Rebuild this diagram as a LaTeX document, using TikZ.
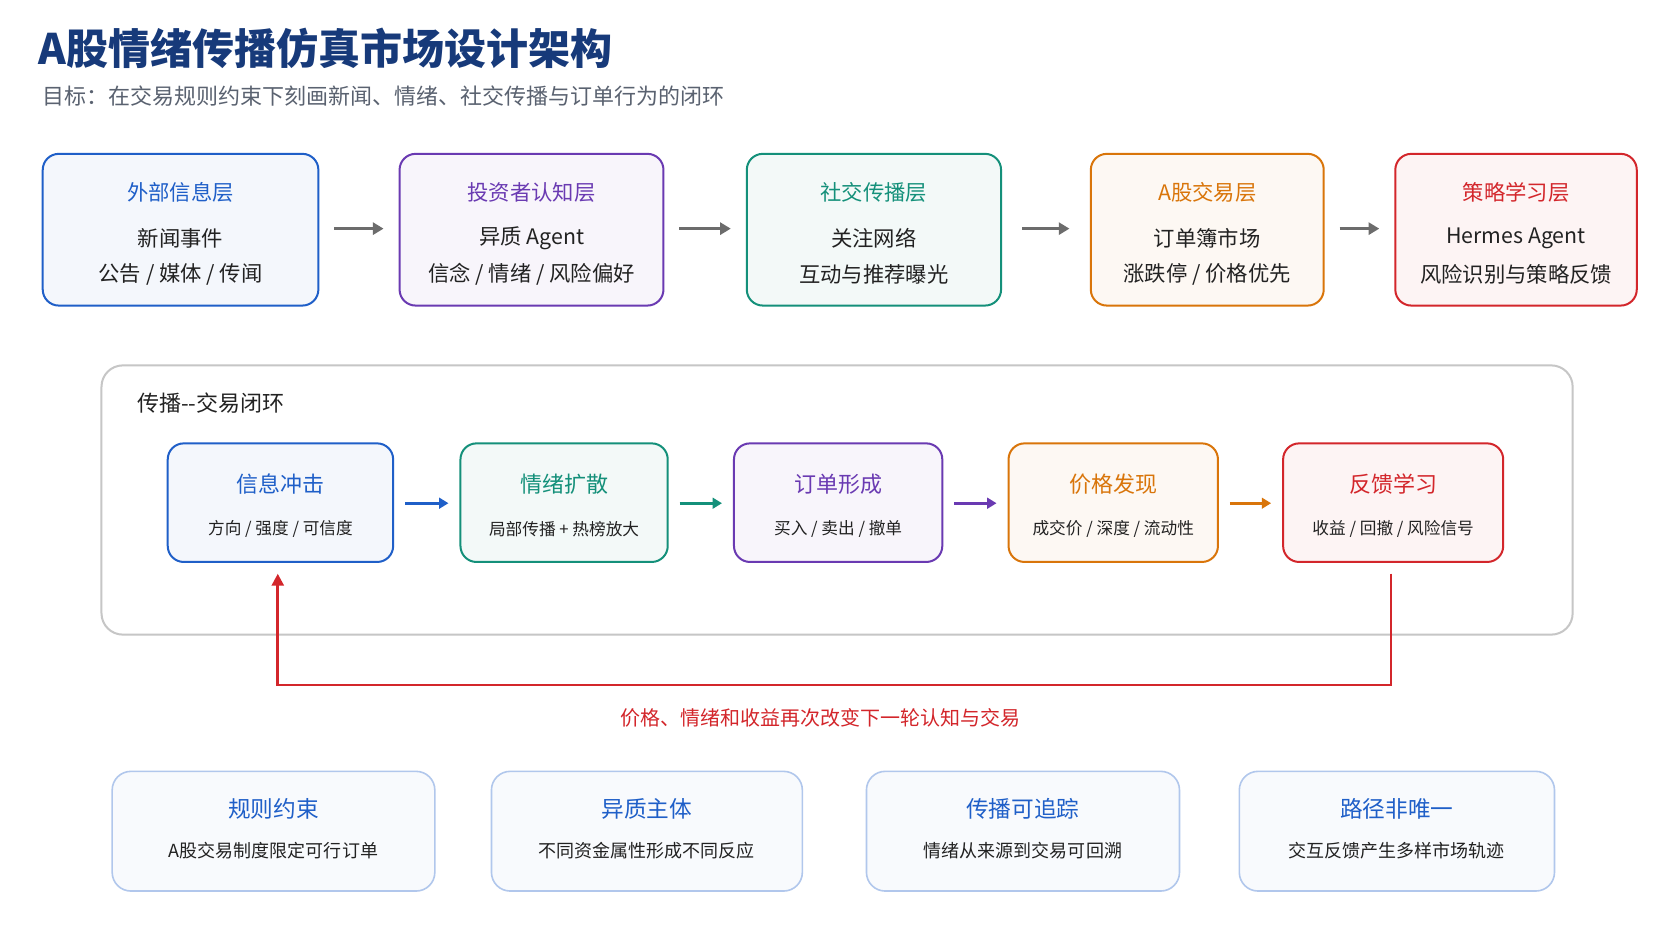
\documentclass[tikz,border=0pt]{standalone}
\usepackage{fontspec}
\setmainfont{Noto Sans CJK SC}
\usetikzlibrary{arrows.meta}
\definecolor{cblue}{HTML}{1F5FC8}
\definecolor{cpurp}{HTML}{6A3AB2}
\definecolor{cteal}{HTML}{14907A}
\definecolor{corg}{HTML}{D9750A}
\definecolor{cred}{HTML}{D3262B}
\definecolor{navy}{HTML}{173A7A}
\definecolor{gtxt}{HTML}{5A6270}
\definecolor{dtxt}{HTML}{222222}
\begin{document}
\begin{tikzpicture}[x=0.801pt,y=-0.801pt,
  lay/.style={draw=#1,line width=1.5pt,rounded corners=12pt,fill=#1!5},
  lt/.style={text=#1,font=\fontsize{16}{19}\selectfont},
  bt/.style={text=dtxt,font=\fontsize{16}{19}\selectfont},
  st/.style={text=dtxt,font=\fontsize{12.5}{15}\selectfont},
  ga/.style={draw=gray!85!black,line width=2.5pt,-{Triangle[length=8pt,width=9pt]}},
  ca/.style={draw=#1,line width=2pt,-{Triangle[length=7pt,width=8pt]}},
  bot/.style={draw=cblue!35,line width=1.2pt,rounded corners=14pt,fill=cblue!3}]
\useasboundingbox (0,0) rectangle (1565,881);
\fill[white] (0,0) rectangle (1565,881);
\node[anchor=west,text=navy,font=\bfseries\fontsize{31.5}{36}\selectfont] (title) at (32,45) {A股情绪传播仿真市场设计架构};
\node[anchor=west,text=gtxt,font=\fontsize{16.5}{20}\selectfont] (sub) at (35,90) {目标：在交易规则约束下刻画新闻、情绪、社交传播与订单行为的闭环};
% top layer
\foreach \n/\a/\b/\c/\t/\l/\m in {A/40/298/cblue/外部信息层/新闻事件/{公告 / 媒体 / 传闻},
 B/374/621/cpurp/投资者认知层/异质 Agent/{信念 / 情绪 / 风险偏好},
 C/699/937/cteal/社交传播层/关注网络/互动与推荐曝光,
 D/1021/1239/corg/A股交易层/订单簿市场/{涨跌停 / 价格优先},
 E/1306/1532/cred/策略学习层/Hermes Agent/风险识别与策略反馈}{
 \draw[lay=\c] (\a,144) rectangle (\b,286);
 \coordinate (\n w) at (\a,214); \coordinate (\n e) at (\b,214);
 \node[lt=\c] (\n t) at ({(\a+\b)/2},180) {\t};
 \node[bt] (\n 1) at ({(\a+\b)/2},223) {\l};
 \node[bt] (\n 2) at ({(\a+\b)/2},257) {\m};
}
\draw[ga] ([xshift=12]Ae) -- ([xshift=-12]Bw);
\draw[ga] ([xshift=12]Be) -- ([xshift=-12]Cw);
\draw[ga] ([xshift=16]Ce) -- ([xshift=-16]Dw);
\draw[ga] ([xshift=12]De) -- ([xshift=-12]Ew);
% loop
\draw[draw=gray!45,line width=1.5pt,rounded corners=16pt] (95,342) rectangle (1472,594);
\node[anchor=west,text=dtxt,font=\fontsize{16.5}{19}\selectfont] (lp) at (124,377) {传播-{}-交易闭环};
\foreach \n/\a/\b/\c/\t/\l in {P/157/368/cblue/信息冲击/{方向 / 强度 / 可信度},
 Q/431/625/cteal/情绪扩散/{局部传播 + 热榜放大},
 R/687/882/cpurp/订单形成/{买入 / 卖出 / 撤单},
 S/944/1140/corg/价格发现/{成交价 / 深度 / 流动性},
 T/1201/1407/cred/反馈学习/{收益 / 回撤 / 风险信号}}{
 \draw[lay=\c] (\a,415) rectangle (\b,526);
 \coordinate (\n w) at (\a,471); \coordinate (\n e) at (\b,471);
 \node[lt=\c,font=\fontsize{16.5}{19}\selectfont] (\n t) at ({(\a+\b)/2},453) {\t};
 \node[st] (\n 1) at ({(\a+\b)/2},495) {\l};
}
\draw[ca=cblue] ([xshift=9]Pe) -- ([xshift=-9]Qw);
\draw[ca=cteal] ([xshift=9]Qe) -- ([xshift=-9]Rw);
\draw[ca=cpurp] ([xshift=9]Re) -- ([xshift=-9]Sw);
\draw[ca=corg] ([xshift=9]Se) -- ([xshift=-9]Tw);
\coordinate (fb1) at (1302,537);
\coordinate (fb2) at (260,537);
\draw[draw=cred,line width=2pt,-{Triangle[length=9pt,width=9pt]}] (fb1) |- (781,641) -| (fb2);
\node[text=cred,font=\fontsize{15}{18}\selectfont] (fbt) at (768,672) {价格、情绪和收益再次改变下一轮认知与交易};
% bottom
\foreach \n/\a/\b/\t/\l in {U/105/407/规则约束/A股交易制度限定可行订单,
 V/460/751/异质主体/不同资金属性形成不同反应,
 W/811/1104/传播可追踪/情绪从来源到交易可回溯,
 X/1160/1455/路径非唯一/交互反馈产生多样市场轨迹}{
 \draw[bot] (\a,722) rectangle (\b,834);
 \node[lt=cblue,font=\fontsize{17}{20}\selectfont] (\n t) at ({(\a+\b)/2},757) {\t};
 \node[st,font=\fontsize{13.5}{16}\selectfont] (\n 1) at ({(\a+\b)/2},796) {\l};
}
\end{tikzpicture}
\end{document}
